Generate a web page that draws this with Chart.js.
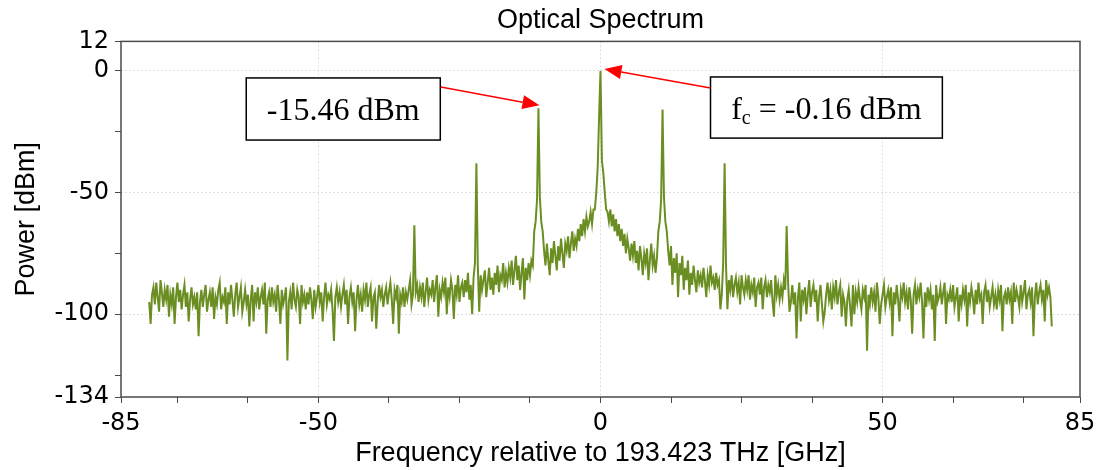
<!DOCTYPE html>
<html>
<head>
<meta charset="utf-8">
<title>Optical Spectrum</title>
<script src="https://cdn.jsdelivr.net/npm/chart.js"></script>
<style>
  html, body { margin: 0; padding: 0; background: #fff; }
  canvas { display: block; }
</style>
</head>
<body>
<canvas id="spectrum" width="1099" height="470"></canvas>
<script>
// sampled every 0.25 GHz starting at -80 GHz (one row = 2 GHz)
const startGHz = -80;
const stepGHz = 0.25;
const powerDbm = [
  -95, -104, -92, -89, -96, -87, -93, -99,      // -80
  -86, -91, -97, -90, -94, -88, -101, -92,      // -78
  -96, -89, -104, -93, -87, -95, -90, -98,      // -76
  -92, -88, -97, -91, -103, -94, -89, -96,      // -74
  -93, -98, -91, -109, -95, -90, -97, -92,      // -72
  -88, -99, -94, -91, -97, -89, -102, -93,      // -70
  -96, -90, -87, -98, -93, -95, -89, -104,      // -68
  -91, -96, -88, -94, -101, -92, -87, -97,      // -66
  -93, -89, -99, -95, -90, -96, -92, -105,      // -64
  -94, -88, -103, -91, -95, -89, -98, -93,      // -62
  -90, -96, -87, -108, -94, -91, -97, -89,      // -60
  -95, -92, -99, -88, -94, -104, -90, -96,      // -58
  -93, -89, -119, -95, -91, -98, -87, -94,      // -56
  -97, -90, -93, -104, -88, -95, -92, -98,      // -54
  -91, -96, -89, -94, -102, -90, -97, -93,      // -52
  -88, -95, -91, -103, -93, -87, -96, -92,      // -50
  -94, -90, -98, -111, -93, -89, -95, -91,      // -48
  -97, -92, -88, -96, -90, -104, -93, -89,      // -46
  -95, -91, -107, -94, -88, -96, -92, -99,      // -44
  -90, -94, -87, -97, -92, -89, -103, -93,      // -42
  -91, -106, -95, -88, -93, -90, -97, -92,      // -40
  -89, -96, -91, -87, -94, -104, -90, -93,      // -38
  -88, -108, -92, -95, -89, -97, -91, -94,      // -36
  -90, -86, -96, -92, -63.5, -91, -88, -95,     // -34
  -89, -93, -87, -97, -91, -85, -94, -90,       // -32
  -92, -86, -95, -89, -84, -101, -90, -93,      // -30
  -87, -91, -85, -100, -89, -93, -86, -90,      // -28
  -102, -88, -92, -84, -95, -89, -87, -93,      // -26
  -86, -91, -83, -94, -88, -100, -85, -79,      // -24
  -38, -80, -99, -84, -90, -86, -82, -93,       // -22
  -87, -81, -90, -85, -92, -83, -88, -80,       // -20
  -91, -84, -86, -79, -89, -83, -87, -81,       // -18
  -85, -78, -88, -82, -76, -86, -80, -90,       // -16
  -83, -77, -94, -81, -86, -79, -84, -78,       // -14
  -80, -66, -62, -53, -15.46, -52, -62, -66,    // -12
  -74, -80, -71, -78, -84, -73, -79, -70,       // -10
  -76, -82, -72, -78, -69, -75, -81, -71,       // -8
  -74, -68, -77, -71, -66, -74, -69, -72,       // -6
  -65, -70, -63, -68, -61, -66, -60, -64,       // -4
  -62, -58, -63, -57, -57, -50, -40, -19,       // -2
  -0.16, -37, -42, -50, -57, -58, -62, -57,     // 0
  -64, -59, -66, -61, -68, -63, -70, -65,       // 2
  -72, -67, -75, -69, -73, -78, -71, -76,       // 4
  -70, -79, -74, -82, -72, -77, -84, -75,       // 6
  -79, -73, -86, -78, -71, -80, -76, -83,       // 8
  -77, -66, -62, -53, -16, -52, -62, -66,       // 10
  -74, -80, -72, -88, -77, -83, -75, -93,       // 12
  -79, -84, -76, -90, -81, -86, -78, -92,       // 14
  -83, -88, -80, -86, -91, -82, -87, -84,       // 16
  -89, -81, -86, -93, -84, -88, -80, -87,       // 18
  -85, -90, -83, -88, -86, -98, -92, -79,       // 20
  -38, -80, -98, -86, -90, -84, -93, -88,       // 22
  -85, -91, -87, -96, -84, -89, -92, -86,       // 24
  -90, -84, -94, -88, -91, -85, -97, -89,       // 26
  -87, -92, -85, -98, -89, -86, -93, -88,       // 28
  -91, -86, -95, -101, -84, -92, -88, -94,      // 30
  -89, -93, -86, -90, -63.8, -87, -99, -95,     // 32
  -88, -96, -91, -110, -93, -87, -103, -90,     // 34
  -94, -89, -100, -92, -86, -97, -91, -88,      // 36
  -95, -90, -103, -93, -88, -96, -103, -99,     // 38
  -92, -87, -94, -90, -98, -89, -93, -86,       // 40
  -96, -91, -88, -101, -92, -95, -105, -94,     // 42
  -90, -97, -105, -88, -100, -91, -95, -89,     // 44
  -94, -98, -90, -93, -88, -115, -92, -96,      // 46
  -89, -95, -91, -99, -87, -93, -104, -96,      // 48
  -92, -88, -97, -93, -90, -95, -89, -109,      // 50
  -91, -96, -88, -94, -103, -90, -93, -87,      // 52
  -95, -91, -98, -89, -94, -108, -92, -88,      // 54
  -96, -90, -93, -87, -95, -110, -91, -97,      // 56
  -89, -94, -90, -98, -92, -111, -88, -95,      // 58
  -93, -89, -96, -91, -87, -104, -92, -94,      // 60
  -90, -95, -88, -97, -93, -89, -103, -92,      // 62
  -96, -90, -94, -88, -105, -91, -95, -89,      // 64
  -93, -100, -90, -96, -87, -94, -92, -104,     // 66
  -91, -88, -95, -90, -97, -93, -89, -96,       // 68
  -92, -98, -90, -94, -88, -107, -93, -91,      // 70
  -96, -89, -94, -91, -104, -87, -95, -90,      // 72
  -93, -97, -88, -95, -91, -86, -98, -92,       // 74
  -90, -95, -89, -109, -93, -87, -96, -91,      // 76
  -88, -94, -90, -103, -86, -92, -89, -93,      // 78
  -105                                          // 80
];
const freqGHz = powerDbm.map((_, i) => startGHz + i * stepGHz);

const xTickValues = [-85, -75, -62.5, -50, -37.5, -25, -12.5, 0, 12.5, 25, 37.5, 50, 62.5, 75, 85];
const xTickLabels = [-85, -50, 0, 50, 85];
const xGridValues = [-50, 0, 50];
const yTickValues = [-134, -125, -100, -75, -50, -25, 0, 12];
const yTickLabels = [12, 0, -50, -100, -134];
const yGridValues = [0, -50, -100];

// callouts (boxes in data units, arrows from box edge to peak)
const callouts = [
  { text: '-15.46 dBm', box: [-62.8, -3.0, -28.4, -28.5], from: [-28.3, -6.7], peak: [-11, -15.46], nudge: [1, -3] },
  { text: 'fc = -0.16 dBm', box: [19.5, -2.6, 60.6, -27.7], from: [19.5, -7.1], peak: [0, -0.16], nudge: [4, -2] }
];

const lineColor = '#6b8e23';
const sansFont = '"Liberation Sans", Arial, sans-serif';
const tickFont = { family: '"DejaVu Sans", sans-serif', size: 24 };
const gridColor = '#dedede';

function drawArrow(ctx, x0, y0, x1, y1) {
  const a = Math.atan2(y1 - y0, x1 - x0);
  const len = 17, half = 7;
  const bx = x1 - len * Math.cos(a), by = y1 - len * Math.sin(a);
  ctx.beginPath();
  ctx.moveTo(x0, y0);
  ctx.lineTo(bx, by);
  ctx.stroke();
  ctx.beginPath();
  ctx.moveTo(x1, y1);
  ctx.lineTo(bx + half * Math.sin(a), by - half * Math.cos(a));
  ctx.lineTo(bx - half * Math.sin(a), by + half * Math.cos(a));
  ctx.closePath();
  ctx.fill();
}

const overlay = {
  id: 'overlay',
  afterDraw(chart) {
    const { ctx, chartArea: area, scales: { x, y } } = chart;
    ctx.save();
    // frame round the plot
    ctx.strokeStyle = '#4a4a4a';
    ctx.lineWidth = 1.5;
    ctx.strokeRect(area.left, area.top, area.right - area.left, area.bottom - area.top);

    callouts.forEach(c => {
      const l = x.getPixelForValue(c.box[0]), t = y.getPixelForValue(c.box[1]);
      const r = x.getPixelForValue(c.box[2]), b = y.getPixelForValue(c.box[3]);
      ctx.fillStyle = '#fff';
      ctx.fillRect(l, t, r - l, b - t);
      ctx.strokeStyle = '#000';
      ctx.lineWidth = 1.5;
      ctx.strokeRect(l, t, r - l, b - t);

      ctx.fillStyle = '#000';
      ctx.textBaseline = 'alphabetic';
      ctx.textAlign = 'left';
      const big = '32px "Liberation Serif", "Times New Roman", serif';
      const small = '20px "Liberation Serif", "Times New Roman", serif';
      const cx = (l + r) / 2, base = (t + b) / 2 + 11;
      if (c.text.startsWith('fc')) {
        const rest = ' = -0.16 dBm';
        ctx.font = big;
        const wf = ctx.measureText('f').width, wr = ctx.measureText(rest).width;
        ctx.font = small;
        const wc = ctx.measureText('c').width;
        let px = cx - (wf + wc + wr) / 2;
        ctx.font = big;
        ctx.fillText('f', px, base);
        px += wf;
        ctx.font = small;
        ctx.fillText('c', px, base + 5);
        px += wc;
        ctx.font = big;
        ctx.fillText(rest, px, base);
      } else {
        ctx.font = big;
        ctx.textAlign = 'center';
        ctx.fillText(c.text, cx, base);
      }

      ctx.strokeStyle = '#ff0000';
      ctx.fillStyle = '#ff0000';
      ctx.lineWidth = 1.5;
      drawArrow(ctx,
        x.getPixelForValue(c.from[0]), y.getPixelForValue(c.from[1]),
        x.getPixelForValue(c.peak[0]) + c.nudge[0], y.getPixelForValue(c.peak[1]) + c.nudge[1]);
    });
    ctx.restore();
  }
};

new Chart(document.getElementById('spectrum'), {
  type: 'line',
  data: {
    datasets: [{
      data: powerDbm.map((p, i) => ({ x: freqGHz[i], y: p })),
      borderColor: lineColor,
      borderWidth: 2,
      pointRadius: 0,
      tension: 0
    }]
  },
  options: {
    responsive: false,
    animation: false,
    layout: { padding: { top: 0, right: 19, bottom: 0, left: 0 } },
    plugins: {
      legend: { display: false },
      tooltip: { enabled: false },
      title: {
        display: true,
        fullSize: false, // centre over the plot, not the canvas
        text: 'Optical Spectrum',
        color: '#000',
        font: { family: sansFont, size: 27, weight: 'normal' },
        padding: { top: 4, bottom: 5 }
      }
    },
    scales: {
      x: {
        type: 'linear',
        min: -85,
        max: 85,
        afterBuildTicks: s => { s.ticks = xTickValues.map(v => ({ value: v })); },
        afterFit: s => {
          s.height = 73;
          s.paddingLeft = 0;
          s.paddingRight = 0;
        },
        ticks: {
          autoSkip: false,
          maxRotation: 0,
          padding: 6,
          color: '#000',
          font: tickFont,
          callback: v => (xTickLabels.includes(v) ? v : '')
        },
        grid: {
          color: c => (xGridValues.includes(c.tick && c.tick.value) ? gridColor : 'rgba(0,0,0,0)'),
          tickColor: '#4a4a4a',
          tickLength: 6,
          tickBorderDash: []
        },
        border: { display: false, dash: [2, 2] },
        title: {
          display: true,
          text: 'Frequency relative to 193.423 THz [GHz]',
          color: '#000',
          font: { family: sansFont, size: 27 },
          padding: { top: 0, bottom: 0 }
        }
      },
      y: {
        min: -134,
        max: 12,
        afterBuildTicks: s => { s.ticks = yTickValues.map(v => ({ value: v })); },
        afterFit: s => { s.width = 121; },
        ticks: {
          autoSkip: false,
          padding: 6,
          color: '#000',
          font: tickFont,
          callback: v => (yTickLabels.includes(v) ? v : '')
        },
        grid: {
          color: c => (yGridValues.includes(c.tick && c.tick.value) ? gridColor : 'rgba(0,0,0,0)'),
          tickColor: '#4a4a4a',
          tickLength: 6,
          tickBorderDash: []
        },
        border: { display: false, dash: [2, 2] },
        title: {
          display: true,
          text: 'Power [dBm]',
          color: '#000',
          font: { family: sansFont, size: 27 },
          padding: { top: 10, bottom: 0 }
        }
      }
    }
  },
  plugins: [overlay]
});
</script>
</body>
</html>
